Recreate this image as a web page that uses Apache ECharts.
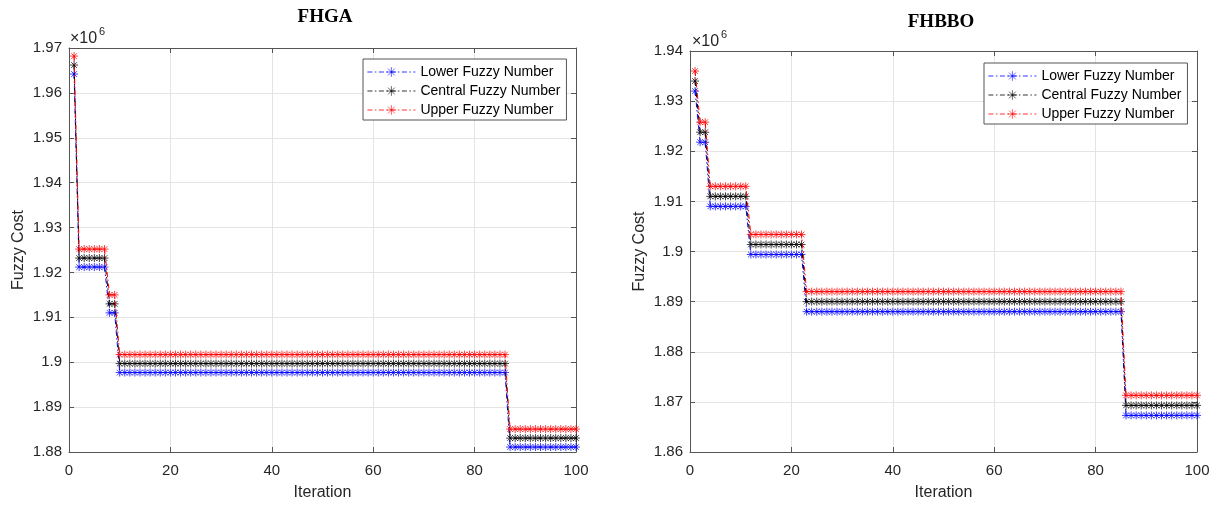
<!DOCTYPE html>
<html>
<head>
<meta charset="utf-8">
<script src="https://cdn.jsdelivr.net/npm/echarts@6/dist/echarts.min.js"></script>
<style>
  html, body { margin: 0; padding: 0; background: #ffffff; }
  #chart { width: 1216px; height: 506px; }
</style>
</head>
<body>
<div id="chart"></div>
<script>
// Fuzzy cost per iteration (in units of 1e6). Each curve is a staircase:
// the level values and the last iteration at which each level holds.
const fhgaStepEnds = [1, 7, 9, 86, 100];
const fhgaLower    = [1.9642, 1.9212, 1.9110, 1.8977, 1.8811];
const fhgaCentral  = [1.9662, 1.9232, 1.9130, 1.8997, 1.8831];
const fhgaUpper    = [1.9682, 1.9252, 1.9150, 1.9017, 1.8851];

const fhbboStepEnds = [1, 3, 11, 22, 85, 100];
const fhbboLower    = [1.9320, 1.9218, 1.9090, 1.8994, 1.8880, 1.8673];
const fhbboCentral  = [1.9340, 1.9238, 1.9110, 1.9014, 1.8900, 1.8693];
const fhbboUpper    = [1.9360, 1.9258, 1.9130, 1.9034, 1.8920, 1.8713];

const seriesNames = ['Lower Fuzzy Number', 'Central Fuzzy Number', 'Upper Fuzzy Number'];
const panelTitles = ['FHGA', 'FHBBO'];
const xRange = [0, 100, 20];
const fhgaYRange = [1.88, 1.97, 0.01];
const fhbboYRange = [1.86, 1.94, 0.01];

// ---- styling ----
const SANS = "'Liberation Sans', Arial, Helvetica, sans-serif";
const SERIF = "'Liberation Serif', 'Times New Roman', serif";
const LINE_COLORS = ['#0000ff', '#000000', '#ff0000'];
const AXIS_COLOR = '#555555';
const GRID_COLOR = '#e4e4e4';
const LABEL_COLOR = '#262626';
const ASTERISK = 'path://M5,0L5,10M0,5L10,5M1.46,1.46L8.54,8.54M1.46,8.54L8.54,1.46';

// one [iteration, value] point per iteration, holding each level until its end
function perIteration(levels, ends) {
  const pts = [];
  let it = 1;
  levels.forEach((v, k) => {
    for (; it <= ends[k]; it++) pts.push([it, v]);
  });
  return pts;
}

function fmt(v) {
  return String(parseFloat(v.toFixed(2)));
}

const panels = [
  { grid: { left: 69, top: 48, width: 507, height: 405 }, y: fhgaYRange,
    curves: [fhgaLower, fhgaCentral, fhgaUpper], ends: fhgaStepEnds,
    legend: { left: 363, top: 59 } },
  { grid: { left: 690, top: 51, width: 507, height: 407 }, y: fhbboYRange,
    curves: [fhbboLower, fhbboCentral, fhbboUpper], ends: fhbboStepEnds,
    legend: { left: 984, top: 63 } }
];

const grids = [], xAxes = [], yAxes = [], series = [], legends = [];

panels.forEach((p, g) => {
  grids.push(Object.assign({ containLabel: false }, p.grid));

  const tick = { show: true, inside: true, length: 5, lineStyle: { color: AXIS_COLOR, width: 1 } };
  const line = { show: true, onZero: false, lineStyle: { color: AXIS_COLOR, width: 1 } };

  xAxes.push({
    type: 'value', gridIndex: g, position: 'bottom',
    min: xRange[0], max: xRange[1], interval: xRange[2],
    axisLine: line, axisTick: tick,
    axisLabel: { color: LABEL_COLOR, fontFamily: SANS, fontSize: 15, margin: 11 },
    splitLine: { show: true, lineStyle: { color: GRID_COLOR, width: 1 } },
    name: 'Iteration', nameLocation: 'middle', nameGap: 33,
    nameTextStyle: { color: LABEL_COLOR, fontFamily: SANS, fontSize: 16 }
  });
  xAxes.push({
    type: 'value', gridIndex: g, position: 'top',
    min: xRange[0], max: xRange[1], interval: xRange[2],
    axisLine: line, axisTick: tick, axisLabel: { show: false }, splitLine: { show: false }
  });

  yAxes.push({
    type: 'value', gridIndex: g, position: 'left',
    min: p.y[0], max: p.y[1], interval: p.y[2],
    axisLine: line, axisTick: tick,
    axisLabel: { color: LABEL_COLOR, fontFamily: SANS, fontSize: 15, margin: 7, formatter: fmt },
    splitLine: { show: true, lineStyle: { color: GRID_COLOR, width: 1 } },
    name: 'Fuzzy Cost', nameLocation: 'middle', nameGap: 42, nameRotate: 90,
    nameTextStyle: { color: LABEL_COLOR, fontFamily: SANS, fontSize: 16 }
  });
  yAxes.push({
    type: 'value', gridIndex: g, position: 'right',
    min: p.y[0], max: p.y[1], interval: p.y[2],
    axisLine: line, axisTick: tick, axisLabel: { show: false }, splitLine: { show: false }
  });

  p.curves.forEach((levels, k) => {
    series.push({
      name: seriesNames[k], type: 'line',
      xAxisIndex: g * 2, yAxisIndex: g * 2,
      data: perIteration(levels, p.ends),
      symbol: ASTERISK, symbolSize: 8, showAllSymbol: true,
      itemStyle: { color: 'rgba(0,0,0,0)', borderColor: LINE_COLORS[k], borderWidth: 0.75 },
      lineStyle: { color: LINE_COLORS[k], width: 1, type: [5, 2.5, 1.5, 2.5] },
      emphasis: { disabled: true },
      z: 3 + k
    });
  });

  legends.push({
    left: p.legend.left, top: p.legend.top, orient: 'vertical',
    data: seriesNames, selectedMode: false,
    itemWidth: 48, itemHeight: 12, itemGap: 5,
    padding: [6, 6, 3, 4],
    backgroundColor: '#ffffff', borderColor: AXIS_COLOR, borderWidth: 1, borderRadius: 0,
    itemStyle: { borderWidth: 0.6 },
    lineStyle: { width: 0.8 },
    textStyle: { color: '#000000', fontFamily: SANS, fontSize: 14, lineHeight: 14 }
  });
});

// panel titles and the ×10^6 exponent labels
const graphics = [
  { type: 'text', x: 325, y: 17, style: { text: panelTitles[0], fill: '#000', font: 'bold 19px ' + SERIF, textAlign: 'center', textVerticalAlign: 'middle' } },
  { type: 'text', x: 941, y: 22, style: { text: panelTitles[1], fill: '#000', font: 'bold 19px ' + SERIF, textAlign: 'center', textVerticalAlign: 'middle' } },
  { type: 'text', x: 70, y: 39, style: { text: '\u00d710', fill: LABEL_COLOR, font: '16px ' + SANS, textAlign: 'left', textVerticalAlign: 'middle' } },
  { type: 'text', x: 99, y: 32, style: { text: '6', fill: LABEL_COLOR, font: '11px ' + SANS, textAlign: 'left', textVerticalAlign: 'middle' } },
  { type: 'text', x: 692, y: 42, style: { text: '\u00d710', fill: LABEL_COLOR, font: '16px ' + SANS, textAlign: 'left', textVerticalAlign: 'middle' } },
  { type: 'text', x: 721, y: 35, style: { text: '6', fill: LABEL_COLOR, font: '11px ' + SANS, textAlign: 'left', textVerticalAlign: 'middle' } }
];

const chart = echarts.init(document.getElementById('chart'), null, { renderer: 'canvas' });
chart.setOption({
  backgroundColor: '#ffffff',
  animation: false,
  grid: grids,
  xAxis: xAxes,
  yAxis: yAxes,
  legend: legends,
  series: series,
  graphic: graphics
});
</script>
</body>
</html>
